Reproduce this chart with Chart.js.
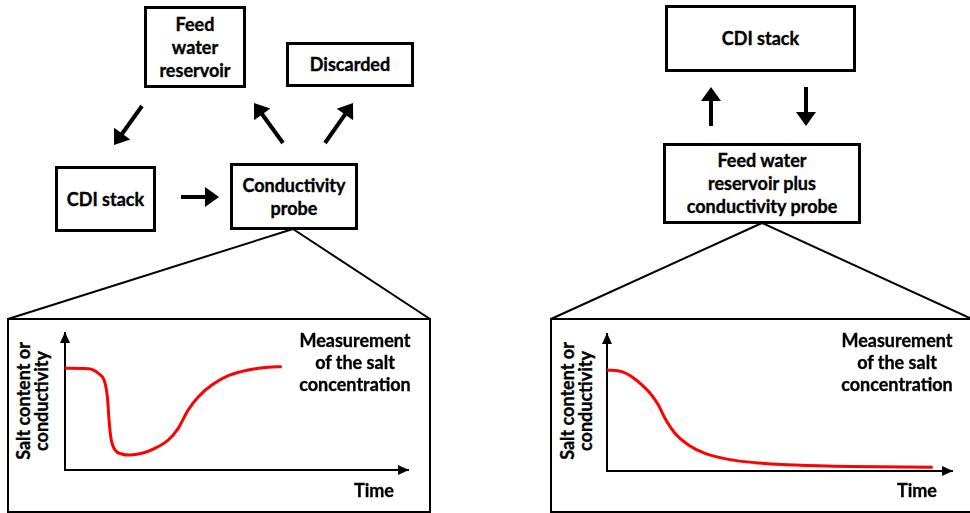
<!DOCTYPE html>
<html>
<head>
<meta charset="utf-8">
<script src="https://cdn.jsdelivr.net/npm/chart.js@4.4.1/dist/chart.umd.min.js"></script>
<style>
  html, body { margin:0; padding:0; background:#fff; }
  #stage { position:relative; width:970px; height:513px; overflow:hidden; background:#fff;
           font-family: Lato, "Open Sans", "DejaVu Sans", sans-serif; font-weight:700; color:#000;
           -webkit-text-stroke: 0.35px #000; }
  .box { position:absolute; box-sizing:border-box; border:3px solid #000; background:#fff;
         display:flex; align-items:center; justify-content:center; text-align:center;
         font-size:18px; line-height:23px; }
  .panel { position:absolute; box-sizing:border-box; border:2px solid #000; background:#fff; }
  .txt { position:absolute; font-size:18px; text-align:center; white-space:nowrap; }
  .ylab { position:absolute; width:160px; height:36px; font-size:18px; line-height:18px;
          text-align:center; transform:rotate(-90deg); white-space:nowrap; }
  canvas { position:absolute; }
  svg { position:absolute; left:0; top:0; }
</style>
</head>
<body>
<div id="stage">
  <svg width="970" height="513" id="lines">
    <line x1="293" y1="229" x2="8" y2="319" stroke="#000" stroke-width="2"/>
    <line x1="293" y1="229" x2="430" y2="319" stroke="#000" stroke-width="2"/>
    <line x1="762" y1="223" x2="551" y2="319" stroke="#000" stroke-width="2"/>
    <line x1="762" y1="223" x2="972" y2="319" stroke="#000" stroke-width="2"/>
  </svg>

  <div class="panel" style="left:7px; top:318px; width:424px; height:195px;"></div>
  <div class="panel" style="left:550px; top:318px; width:430px; height:195px;"></div>

  <div class="box" style="left:144px; top:6px; width:102px; height:82px;">Feed<br>water<br>reservoir</div>
  <div class="box" style="left:286px; top:42px; width:128px; height:45px;">Discarded</div>
  <div class="box" style="left:55px; top:166px; width:101px; height:66px;">CDI stack</div>
  <div class="box" style="left:230px; top:163px; width:128px; height:67px;">Conductivity<br>probe</div>

  <div class="box" style="left:665px; top:5px; width:191px; height:67px;">CDI stack</div>
  <div class="box" style="left:663px; top:143px; width:198px; height:81px;">Feed water<br>reservoir plus<br>conductivity probe</div>

  <svg width="970" height="513" id="arrows"></svg>

  <canvas id="cLeft" width="360" height="155" style="left:55px; top:325px;"></canvas>
  <canvas id="cRight" width="362" height="155" style="left:597px; top:326px;"></canvas>

  <div class="txt" style="left:285px; top:329px; width:140px; line-height:22px;">Measurement<br>of the salt<br>concentration</div>
  <div class="txt" style="left:827px; top:329px; width:140px; line-height:22px;">Measurement<br>of the salt<br>concentration</div>
  <div class="txt" style="left:344px; top:479px; width:60px;">Time</div>
  <div class="txt" style="left:887px; top:479px; width:60px;">Time</div>

  <div class="ylab" style="left:-48px; top:383px;">Salt content or<br>conductivity</div>
  <div class="ylab" style="left:496px; top:383px;">Salt content or<br>conductivity</div>
</div>

<script>
// ---- data ----
const timeLeft  = [0, 6.8, 9.7, 11.7, 12.4, 12.8, 13.4, 14.6, 16.5, 19.0, 22.4, 26.2, 30.1, 33.0, 35.9, 38.9, 42.8, 47.6, 53.4, 59.3, 63.2];
const saltLeft  = [7.42, 7.39, 7.06, 6.33, 5.23, 3.77, 2.31, 1.46, 1.17, 1.09, 1.22, 1.58, 2.19, 3.04, 4.38, 5.35, 6.20, 6.88, 7.30, 7.50, 7.54];
const timeRight = [0, 4.3, 7.2, 10.1, 12.5, 14.9, 16.8, 19.7, 23.6, 28.4, 35.2, 42.9, 54.5, 70.4, 94.4];
const saltRight = [7.37, 7.25, 6.88, 6.28, 5.67, 4.82, 3.85, 2.75, 1.90, 1.29, 0.85, 0.61, 0.44, 0.33, 0.27];
const axisMin = 0, xMax = 100, yMax = 10;

// ---- diagram arrows (SVG) ----
const arrowSvg = document.getElementById('arrows');
function arrow(x1, y1, x2, y2) {
  const ns = 'http://www.w3.org/2000/svg';
  const dx = x2 - x1, dy = y2 - y1, L = Math.hypot(dx, dy);
  const ux = dx / L, uy = dy / L, px = -uy, py = ux;
  const hl = 14, hw = 10;
  const bx = x2 - ux * hl, by = y2 - uy * hl;
  const ln = document.createElementNS(ns, 'line');
  ln.setAttribute('x1', x1); ln.setAttribute('y1', y1);
  ln.setAttribute('x2', bx + ux * 2); ln.setAttribute('y2', by + uy * 2);
  ln.setAttribute('stroke', '#000'); ln.setAttribute('stroke-width', '4');
  arrowSvg.appendChild(ln);
  const pg = document.createElementNS(ns, 'polygon');
  pg.setAttribute('points', `${x2},${y2} ${bx + px * hw},${by + py * hw} ${bx - px * hw},${by - py * hw}`);
  pg.setAttribute('fill', '#000');
  arrowSvg.appendChild(pg);
}
arrow(142, 106, 114, 145);
arrow(181, 197, 219, 197);
arrow(283, 143, 254, 103);
arrow(325, 143, 353, 103);
arrow(711, 126, 711, 87);
arrow(806, 87, 806, 126);

// ---- charts ----
const axisArrows = {
  id: 'axisArrows',
  afterDraw(chart) {
    const { ctx, chartArea: a } = chart;
    ctx.save();
    ctx.fillStyle = '#000';
    ctx.beginPath();
    ctx.moveTo(a.left, a.top - 1);
    ctx.lineTo(a.left - 5, a.top + 10);
    ctx.lineTo(a.left + 5, a.top + 10);
    ctx.closePath();
    ctx.fill();
    ctx.beginPath();
    ctx.moveTo(a.right + 1, a.bottom);
    ctx.lineTo(a.right - 10, a.bottom - 5);
    ctx.lineTo(a.right - 10, a.bottom + 5);
    ctx.closePath();
    ctx.fill();
    ctx.restore();
  }
};

function makeChart(id, xs, ys, pad) {
  const pts = xs.map((x, i) => ({ x: x, y: ys[i] }));
  return new Chart(document.getElementById(id), {
    type: 'line',
    data: { datasets: [{ data: pts, borderColor: '#ff0000', borderWidth: 3,
                         pointRadius: 0, cubicInterpolationMode: 'monotone', fill: false }] },
    options: {
      responsive: false, animation: false, events: [],
      layout: { padding: pad },
      plugins: { legend: { display: false }, tooltip: { enabled: false } },
      scales: {
        x: { type: 'linear', min: axisMin, max: xMax,
             grid: { display: false }, ticks: { display: false },
             border: { display: true, color: '#000', width: 2 },
             afterFit: s => { s.height = 0; } },
        y: { type: 'linear', min: axisMin, max: yMax,
             grid: { display: false }, ticks: { display: false },
             border: { display: true, color: '#000', width: 2 },
             afterFit: s => { s.width = 0; } }
      }
    },
    plugins: [axisArrows]
  });
}
makeChart('cLeft', timeLeft, saltLeft, { left: 10, top: 8, right: 7, bottom: 10 });
makeChart('cRight', timeRight, saltRight, { left: 10, top: 8, right: 7, bottom: 10 });
</script>
</body>
</html>
